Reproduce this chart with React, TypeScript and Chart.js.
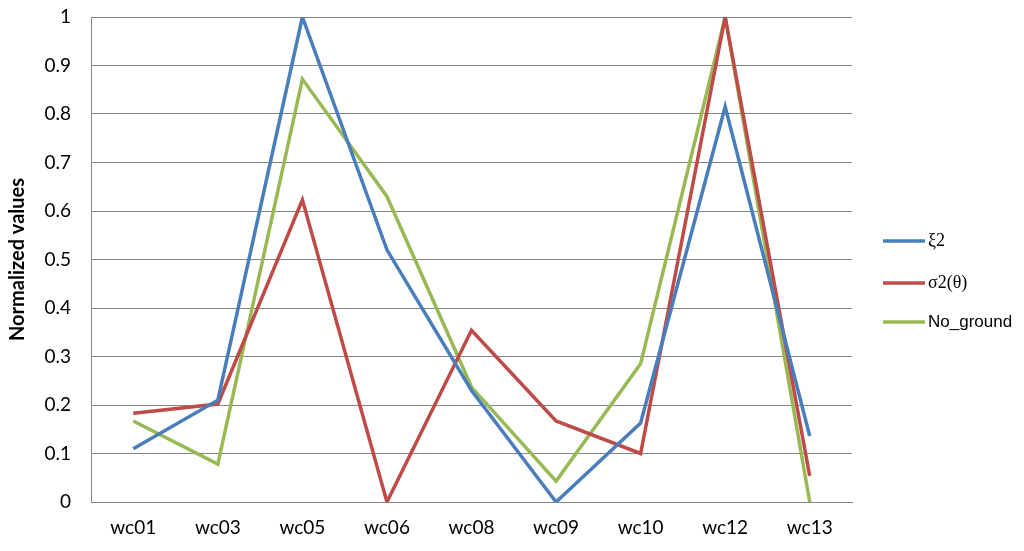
import React, { useEffect, useRef } from "react";
import { Chart, registerables } from "chart.js";

Chart.register(...registerables);

const categories = ["wc01", "wc03", "wc05", "wc06", "wc08", "wc09", "wc10", "wc12", "wc13"];
const xi2 = [0.11, 0.21, 1.0, 0.52, 0.23, 0.0, 0.163, 0.815, 0.136];
const sigma2 = [0.183, 0.202, 0.623, 0.0, 0.354, 0.167, 0.1, 1.0, 0.054];
const noGround = [0.167, 0.078, 0.872, 0.63, 0.237, 0.043, 0.285, 1.0, 0.0];
const seriesNames = ["ξ2", "σ2(θ)", "No_ground"];
const seriesColors = ["#4A7EBB", "#BE4B48", "#98B954"];
const legendFonts = ["18px 'Liberation Serif'", "18px 'Liberation Serif'", "17px 'Liberation Sans'"];

const fixTopPlugin = {
  id: "fixTop",
  afterLayout(chart: any) {
    const top = 17;
    chart.chartArea.top = top;
    chart.chartArea.height = chart.chartArea.bottom - top;
    const y = chart.scales.y;
    y.top = top;
    y.height = y.bottom - top;
    y.configure();
  },
};

const legendPlugin = {
  id: "customLegend",
  afterDraw(chart: any) {
    const ctx = chart.ctx;
    const x0 = chart.chartArea.right + 31;
    const ys = [241, 283, 322];
    ctx.save();
    chart.data.datasets.forEach((ds: any, i: number) => {
      ctx.strokeStyle = ds.borderColor;
      ctx.lineWidth = 3.5;
      ctx.beginPath();
      ctx.moveTo(x0, ys[i]);
      ctx.lineTo(x0 + 42, ys[i]);
      ctx.stroke();
      ctx.fillStyle = "#000";
      ctx.font = legendFonts[i];
      ctx.textBaseline = "middle";
      ctx.textAlign = "left";
      ctx.fillText(ds.label, x0 + 45, ys[i]);
    });
    ctx.restore();
  },
};

export default function App() {
  const ref = useRef<HTMLCanvasElement>(null);
  useEffect(() => {
    if (!ref.current) return;
    const chart = new Chart(ref.current, {
      type: "line",
      data: {
        labels: categories,
        datasets: [xi2, sigma2, noGround].map((d, i) => ({
          label: seriesNames[i],
          data: d,
          borderColor: seriesColors[i],
          backgroundColor: seriesColors[i],
          borderWidth: 3.5,
          pointRadius: 0,
          tension: 0,
          fill: false,
        })),
      },
      options: {
        animation: false,
        responsive: false,
        layout: { autoPadding: false, padding: { top: 17, right: 172, left: 0, bottom: 0 } },
        plugins: { legend: { display: false }, tooltip: { enabled: false } },
        scales: {
          x: {
            offset: true,
            grid: { display: false, drawTicks: false, offset: true },
            border: { display: true, color: "#868686", width: 1 },
            ticks: { color: "#000", font: { family: "Lato", size: 19 }, padding: 14, maxRotation: 0 },
            afterFit: (s: any) => { s.height = 49; },
          },
          y: {
            min: 0,
            max: 1,
            ticks: {
              stepSize: 0.1,
              color: "#000",
              font: { family: "Lato", size: 19 },
              padding: 20,
              callback: (v: any) => String(Math.round(Number(v) * 10) / 10),
            },
            grid: { color: "#868686", lineWidth: 1, drawTicks: false },
            border: { display: true, color: "#868686", width: 1 },
            title: {
              display: true,
              text: "Normalized values",
              color: "#000",
              font: { family: "Lato", size: 20, weight: "bold" },
              padding: { top: 6, bottom: 0 },
            },
            afterFit: (s: any) => { s.width = 91; },
          },
        },
      },
      plugins: [fixTopPlugin, legendPlugin],
    });
    return () => chart.destroy();
  }, []);
  return (
    <div style={{ position: "fixed", left: 0, top: 0, width: 1024, height: 551, background: "#fff" }}>
      <canvas ref={ref} width={1024} height={551} style={{ display: "block" }} />
    </div>
  );
}
